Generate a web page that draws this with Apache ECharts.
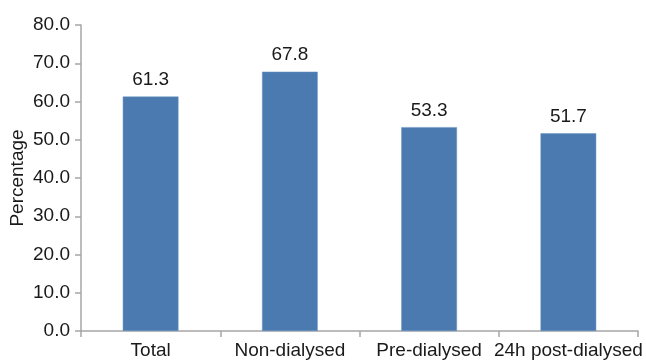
<!DOCTYPE html>
<html>
<head>
<meta charset="utf-8">
<script src="https://cdn.jsdelivr.net/npm/echarts@6/dist/echarts.min.js"></script>
<style>
  html, body { margin: 0; padding: 0; background: #fff; }
  #chart { width: 646px; height: 362px; }
</style>
</head>
<body>
<div id="chart"></div>
<script>
// Share of patients per group (percent)
const categories = ['Total', 'Non-dialysed', 'Pre-dialysed', '24h post-dialysed'];
const percentages = [61.3, 67.8, 53.3, 51.7];
const yTicks = { min: 0, max: 80, interval: 10 };

const FONT = 'Liberation Sans, Arial, Helvetica, sans-serif';
const axisGray = '#a6a6a6';
const textColor = '#1a1a1a';

const chart = echarts.init(document.getElementById('chart'));
chart.setOption({
  animation: false,
  grid: { left: 81, right: 8, top: 25, bottom: 31, containLabel: false, outerBoundsMode: 'none' },
  xAxis: {
    type: 'category',
    data: categories,
    axisLine: { lineStyle: { color: axisGray, width: 1.5 } },
    axisTick: { show: true, length: 6, alignWithLabel: false, lineStyle: { color: axisGray, width: 1.5 } },
    axisLabel: { color: textColor, fontFamily: FONT, fontSize: 19, margin: 10, interval: 0 }
  },
  yAxis: {
    type: 'value',
    min: yTicks.min,
    max: yTicks.max,
    interval: yTicks.interval,
    name: 'Percentage',
    nameLocation: 'middle',
    nameGap: 54,
    nameMoveOverlap: false,
    nameTextStyle: { color: textColor, fontFamily: FONT, fontSize: 19 },
    axisLine: { show: true, lineStyle: { color: axisGray, width: 1.5 } },
    axisTick: { show: true, length: 6, lineStyle: { color: axisGray, width: 1.5 } },
    splitLine: { show: false },
    axisLabel: {
      color: textColor, fontFamily: FONT, fontSize: 19, margin: 11,
      formatter: v => v.toFixed(1)
    }
  },
  series: [{
    type: 'bar',
    data: percentages,
    barWidth: '40%',
    itemStyle: { color: '#4a7ab0', borderColor: '#6f96c4', borderWidth: 0.5 },
    label: {
      show: true,
      position: 'top',
      distance: 7,
      color: textColor,
      fontFamily: FONT,
      fontSize: 19,
      formatter: p => p.value.toFixed(1)
    }
  }]
});
</script>
</body>
</html>
